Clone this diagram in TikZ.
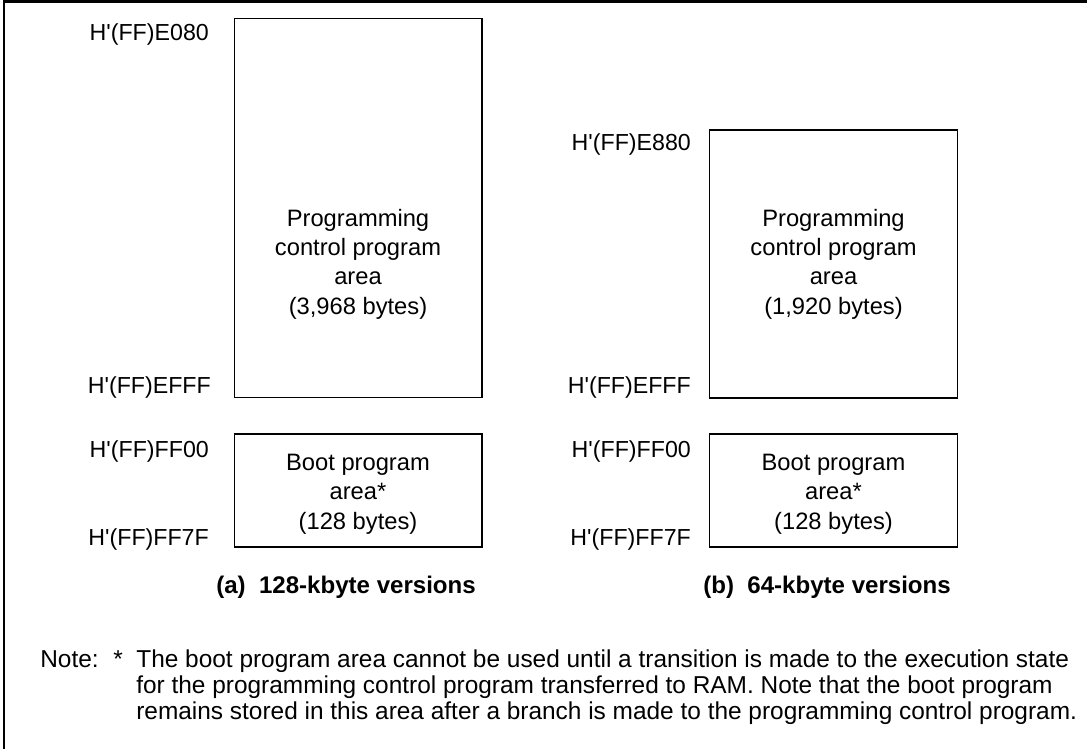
\documentclass[tikz,border=0pt]{standalone}
\usepackage{fontspec}
\setmainfont{Liberation Sans}
\newcommand{\hx}[1]{H\textquotesingle(FF)#1}

\begin{document}
\begin{tikzpicture}[
				x=0.02cm, y=-0.02cm,
				area/.style={draw, rectangle, line width=0.6pt, minimum width=4.96cm, inner sep=0pt},
				areatext/.style={align=center, font=\fontsize{13.5}{16.7}\selectfont},
				addr/.style={anchor=base east, font=\fontsize{13.2}{16}\selectfont},
				caption/.style={anchor=base east, font=\bfseries\fontsize{13.7}{16}\selectfont},
				notetext/.style={anchor=base west, align=left, inner sep=0pt, font=\fontsize{13.9}{14.7}\selectfont},
				frame/.style={line width=1.7pt}
				]
				
				\useasboundingbox (0,0) rectangle (1087,749);
				
				% Outer frame
				\draw[frame] (4,749) -- (4,2) -- (1087,2);
				
				% (a) 128-kbyte versions
				\node[area, minimum height=7.6cm] (pcpa) at (358,208) {};
				\node[areatext] (pcpatext) at (358,264) {Programming\\control program\\area\\(3,968 bytes)};
				\node[area, minimum height=2.26cm] (boota) at (358,490.5) {};
				\node[areatext] (bootatext) at (358,494) {Boot program\\area*\\(128 bytes)};
				
				\node[addr] (ae080) at (215,41) {\hx{E080}};
				\node[addr] (aefff) at (217,393) {\hx{EFFF}};
				\node[addr] (aff00) at (215,457) {\hx{FF00}};
				\node[addr] (aff7f) at (215,545) {\hx{FF7F}};
				
				\node[caption] (capa) at (482,593) {(a)\ \ 128-kbyte versions};
				
				% (b) 64-kbyte versions
				\node[area, minimum height=5.36cm] (pcpb) at (833.5,264) {};
				\node[areatext] (pcpbtext) at (833.5,264) {Programming\\control program\\area\\(1,920 bytes)};
				\node[area, minimum height=2.26cm] (bootb) at (833.5,490.5) {};
				\node[areatext] (bootbtext) at (833.5,494) {Boot program\\area*\\(128 bytes)};
				
				\node[addr] (be880) at (697,151) {\hx{E880}};
				\node[addr] (befff) at (697,393) {\hx{EFFF}};
				\node[addr] (bff00) at (697,457) {\hx{FF00}};
				\node[addr] (bff7f) at (697,545) {\hx{FF7F}};
				
				\node[caption] (capb) at (957,593) {(b)\ \ 64-kbyte versions};
				
				% Note
				\node[notetext] (notelabel) at (40,667) {Note:};
				\node[notetext] (notestar) at (113,667) {*};
				\node[notetext] (notebody) at (136,719) {The boot program area cannot be used until a transition is made to the execution state\\for the programming control program transferred to RAM. Note that the boot program\\remains stored in this area after a branch is made to the programming control program.};
				
			\end{tikzpicture}
\end{document}
